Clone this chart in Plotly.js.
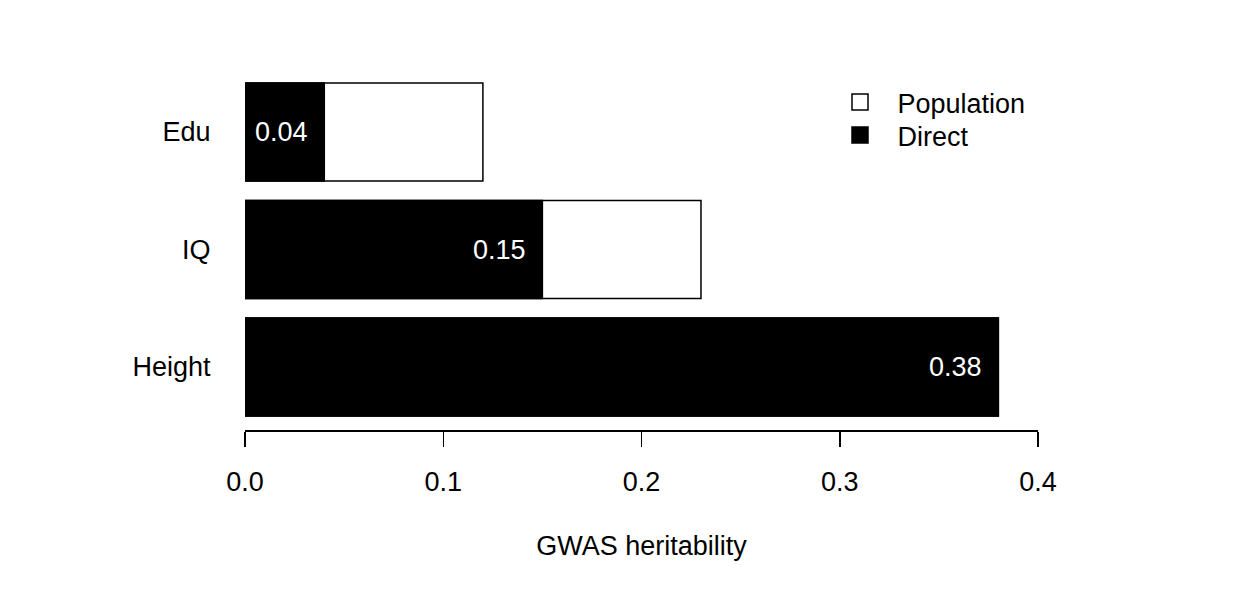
<!DOCTYPE html>
<html>
<head>
<meta charset="utf-8">
<script src="https://cdn.plot.ly/plotly-3.0.1.min.js"></script>
<style>html,body{margin:0;padding:0;background:#fff;}#chart{width:1236px;height:604px;}</style>
</head>
<body>
<div id="chart"></div>
<script>
const categories = ['Edu', 'IQ', 'Height'];
const populationValues = [0.12, 0.23, 0.38];
const directValues = [0.04, 0.15, 0.38];
const directLabels = ['0.04', '0.15', '0.38'];
const xTickValues = [0, 0.1, 0.2, 0.3, 0.4];
const xTickLabels = ['0.0', '0.1', '0.2', '0.3', '0.4'];

const FONT = 'Liberation Sans, Arial, Helvetica, sans-serif';
const FS = 27;

const traces = [
  {
    type: 'bar', orientation: 'h', name: 'Population',
    x: populationValues, y: categories,
    marker: {color: '#ffffff', line: {color: '#000000', width: 1.5}},
    width: 0.834, showlegend: false, hoverinfo: 'skip'
  },
  {
    type: 'bar', orientation: 'h', name: 'Direct',
    x: directValues, y: categories,
    marker: {color: '#000000', line: {color: '#000000', width: 1.5}},
    width: 0.834, showlegend: false, hoverinfo: 'skip'
  },
  {
    type: 'scatter', mode: 'markers', name: 'Population', legend: 'legend',
    x: [null], y: [null],
    marker: {symbol: 'square', size: 16, color: '#ffffff', line: {color: '#000000', width: 1.5}}
  },
  {
    type: 'scatter', mode: 'markers', name: 'Direct', legend: 'legend2',
    x: [null], y: [null],
    marker: {symbol: 'square', size: 16, color: '#000000', line: {color: '#000000', width: 1.5}}
  }
];

const annotations = directValues.map((v, i) => ({
  x: v, y: categories[i], xref: 'x', yref: 'y',
  text: directLabels[i], showarrow: false,
  xanchor: 'right', yanchor: 'middle', xshift: -14,
  font: {family: FONT, size: FS, color: '#ffffff'}
}));

const legendBase = {
  xref: 'container', yref: 'container', x: 822.5 / 1236,
  xanchor: 'left', yanchor: 'top',
  font: {family: FONT, size: FS, color: '#000000'},
  bgcolor: 'rgba(0,0,0,0)', itemwidth: 65
};

const layout = {
  width: 1236, height: 604,
  paper_bgcolor: '#ffffff', plot_bgcolor: '#ffffff',
  font: {family: FONT, size: FS, color: '#000000'},
  margin: {l: 245, r: 198, t: 70, b: 174, autoexpand: false},
  barmode: 'overlay',
  showlegend: true,
  legend: Object.assign({}, legendBase, {y: 1 - 78 / 604}),
  legend2: Object.assign({}, legendBase, {y: 1 - 111 / 604}),
  xaxis: {
    range: [0, 0.4], autorange: false,
    tickvals: xTickValues, ticktext: xTickLabels,
    ticks: 'outside', ticklen: 15, tickwidth: 1.5, tickcolor: '#000',
    showline: true, linecolor: '#000', linewidth: 1.5,
    showgrid: false, zeroline: false, fixedrange: true,
    ticklabelstandoff: 12,
    tickfont: {family: FONT, size: FS},
    title: {text: 'GWAS heritability', font: {family: FONT, size: FS}, standoff: 40}
  },
  yaxis: {
    type: 'category', categoryorder: 'array', categoryarray: ['Height', 'IQ', 'Edu'],
    range: [-0.536, 2.528], autorange: false,
    ticks: 'outside', ticklen: 28, tickcolor: 'rgba(0,0,0,0)',
    showline: false, showgrid: false, zeroline: false, fixedrange: true,
    tickfont: {family: FONT, size: FS}
  },
  annotations: annotations
};

Plotly.newPlot('chart', traces, layout, {displayModeBar: false, staticPlot: true});
</script>
</body>
</html>
